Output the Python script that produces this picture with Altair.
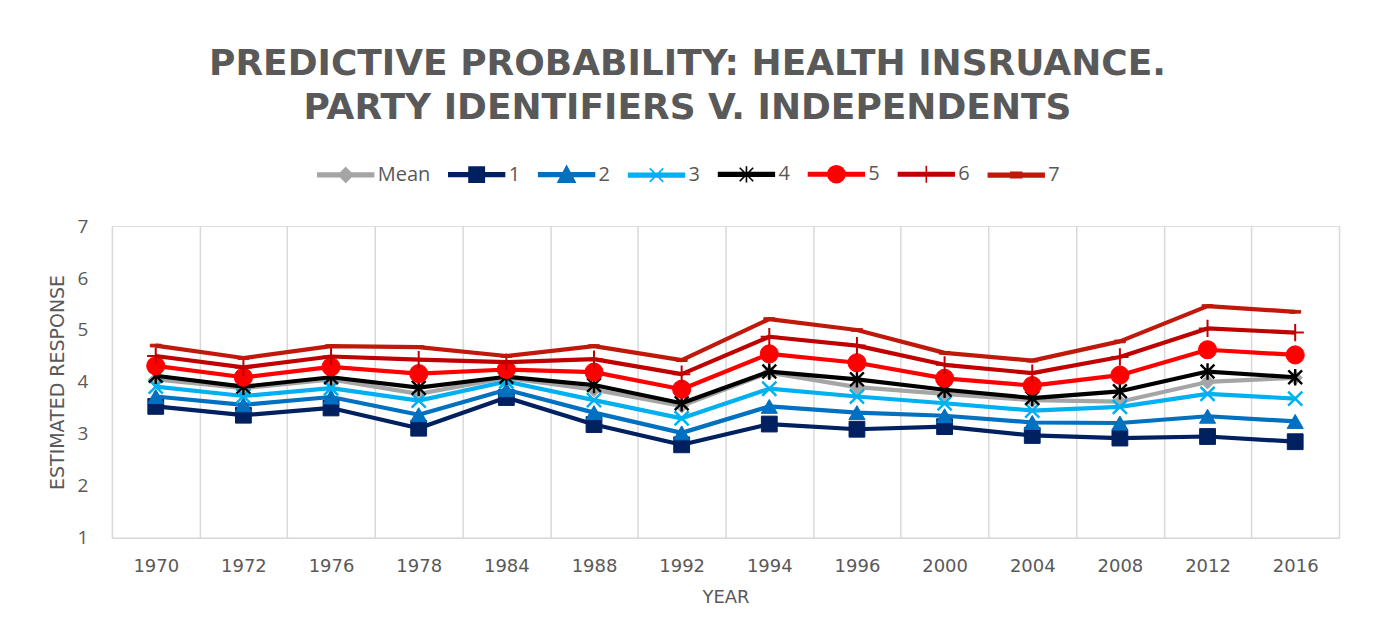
import altair as alt
import pandas as pd

years = ["1970", "1972", "1976", "1978", "1984", "1988", "1992",
         "1994", "1996", "2000", "2004", "2008", "2012", "2016"]
series_names = ["Mean", "1", "2", "3", "4", "5", "6", "7"]

mean_vals = [4.05, 3.88, 4.05, 3.77, 4.08, 3.85, 3.54, 4.18, 3.90, 3.77, 3.65, 3.62, 4.00, 4.08]
s1_vals = [3.53, 3.36, 3.50, 3.11, 3.70, 3.18, 2.79, 3.19, 3.09, 3.14, 2.97, 2.92, 2.95, 2.85]
s2_vals = [3.72, 3.56, 3.71, 3.37, 3.85, 3.41, 3.02, 3.53, 3.41, 3.35, 3.22, 3.21, 3.34, 3.24]
s3_vals = [3.91, 3.73, 3.88, 3.64, 4.01, 3.65, 3.30, 3.87, 3.72, 3.59, 3.45, 3.52, 3.77, 3.68]
s4_vals = [4.12, 3.91, 4.09, 3.89, 4.10, 3.94, 3.59, 4.20, 4.05, 3.85, 3.69, 3.82, 4.20, 4.09]
s5_vals = [4.31, 4.09, 4.29, 4.16, 4.24, 4.19, 3.86, 4.54, 4.37, 4.07, 3.93, 4.13, 4.62, 4.52]
s6_vals = [4.50, 4.28, 4.49, 4.43, 4.38, 4.44, 4.15, 4.87, 4.70, 4.33, 4.17, 4.48, 5.03, 4.95]
s7_vals = [4.70, 4.46, 4.69, 4.67, 4.50, 4.69, 4.42, 5.21, 5.00, 4.56, 4.41, 4.78, 5.46, 5.35]

all_vals = [mean_vals, s1_vals, s2_vals, s3_vals, s4_vals, s5_vals, s6_vals, s7_vals]
colors = ["#A5A5A5", "#002060", "#0070C0", "#00B0F0", "#000000", "#FF0000", "#C00000", "#C0190B"]

rows = []
for name, vals in zip(series_names, all_vals):
    for yr, v in zip(years, vals):
        rows.append({"year": yr, "value": v, "series": name})
df = pd.DataFrame(rows)

TEXT = "#595959"
GRID = "#D9D9D9"

# marker styles (shape, filled, size, strokeWidth)
marker_styles = {
    "Mean": ("diamond", True, 200, 1),
    "1": ("square", True, 250, 1),
    "2": ("triangle-up", True, 260, 1),
    "3": ("M-1,-1L1,1M-1,1L1,-1", False, 200, 2.5),
    "4": ("M-1,-1L1,1M-1,1L1,-1M0,-1.2L0,1.2", False, 190, 2.4),
    "5": ("circle", True, 330, 1),
    "6": ("M-1,0L1,0M0,-1L0,1", False, 300, 2),
    "7": ("M-1,-0.25L1,-0.25L1,0.25L-1,0.25Z", True, 120, 1),
}

# legend symbol paths: line segment + marker (units of sqrt(size)/2)
LINE = "M-3.1,-0.2L3.1,-0.2L3.1,0.2L-3.1,0.2Z"
legend_paths = {
    "Mean": LINE + "M0,-0.8L0.8,0L0,0.8L-0.8,0Z",
    "1": LINE + "M-0.85,-0.85L0.85,-0.85L0.85,0.85L-0.85,0.85Z",
    "2": LINE + "M0,-0.95L0.95,0.85L-0.95,0.85Z",
    "3": LINE + "M-0.75,-0.75L0.75,0.75M-0.75,0.75L0.75,-0.75",
    "4": LINE + "M-0.75,-0.75L0.75,0.75M-0.75,0.75L0.75,-0.75M0,-0.9L0,0.9",
    "5": LINE + "M-0.95,0A0.95,0.95 0 1,1 0.95,0A0.95,0.95 0 1,1 -0.95,0Z",
    "6": LINE + "M0,-0.95L0,0.95",
    "7": LINE + "M-0.6,-0.3L0.6,-0.3L0.6,0.3L-0.6,0.3Z",
}

legend = alt.Legend(
    title=None,
    orient="none",
    legendX=206,
    legendY=-62,
    direction="horizontal",
    columnPadding=14,
    labelFont="Open Sans",
    labelFontSize=20,
    labelColor=TEXT,
    labelOffset=22,
    symbolSize=324,
    symbolOffset=18,
    symbolStrokeWidth=1.6,
    symbolOpacity=1,
)

x_enc = alt.X(
    "year:O",
    sort=years,
    bandPosition=0.5,
    scale=alt.Scale(type="band", paddingInner=0, paddingOuter=0),
    axis=alt.Axis(
        title="YEAR",
        tickBand="extent",
        grid=True,
        gridColor=GRID,
        gridWidth=1.5,
        domainColor=GRID,
        domainWidth=1.5,
        ticks=False,
        labelAngle=0,
        labelPadding=20,
        labelFont="DejaVu Sans",
        labelFontSize=18,
        labelColor=TEXT,
        titleFont="DejaVu Sans",
        titleFontSize=18,
        titleFontWeight="normal",
        titleColor=TEXT,
        titlePadding=13,
    ),
)
y_enc = alt.Y(
    "value:Q",
    scale=alt.Scale(domain=[1, 7], nice=False, zero=False),
    axis=alt.Axis(
        values=[1, 2, 3, 4, 5, 6, 7],
        grid=False,
        domain=False,
        ticks=False,
        labelPadding=24,
        labelFont="Open Sans",
        labelFontSize=19,
        labelColor=TEXT,
        title="ESTIMATED RESPONSE",
        titleFont="DejaVu Sans",
        titleFontSize=19,
        titleFontWeight="normal",
        titleColor=TEXT,
        titlePadding=10,
    ),
)

base = alt.Chart(df)
layers = []
for name, col in zip(series_names, colors):
    sub = base.transform_filter(alt.datum.series == name)
    layers.append(
        sub.mark_line(strokeWidth=4.2, strokeJoin="round", color=col).encode(x=x_enc, y=y_enc)
    )
    shape, filled, size, sw = marker_styles[name]
    layers.append(
        sub.mark_point(
            shape=shape, filled=filled, size=size, strokeWidth=sw,
            opacity=1, fill=col if filled else "transparent", stroke=col,
        ).encode(x=x_enc, y=y_enc)
    )

# legend-only layer: no rows survive the filter, legend comes from explicit scale domains
legend_layer = base.transform_filter("false").mark_point(
    filled=True, opacity=1, strokeWidth=1.6
).encode(
    x=x_enc,
    y=y_enc,
    color=alt.Color("series:N", scale=alt.Scale(domain=series_names, range=colors), legend=legend),
    stroke=alt.Stroke("series:N", scale=alt.Scale(domain=series_names, range=colors), legend=legend),
    shape=alt.Shape(
        "series:N",
        scale=alt.Scale(domain=series_names, range=[legend_paths[n] for n in series_names]),
        legend=legend,
    ),
)
layers.append(legend_layer)

chart = alt.layer(*layers).properties(
    width=1228,
    height=312,
    autosize=alt.AutoSizeParams(type="none"),
    padding={"left": 104, "top": 218, "right": 30, "bottom": 80},
    title=alt.TitleParams(
        ["PREDICTIVE PROBABILITY: HEALTH INSRUANCE.", "PARTY IDENTIFIERS V. INDEPENDENTS"],
        font="DejaVu Sans",
        fontSize=36,
        fontWeight="bold",
        color=TEXT,
        lineHeight=44,
        anchor="middle",
        dx=-38,
        offset=37,
    ),
).configure_view(stroke=None).configure(background="white")

chart.save("out.html", embed_options={"renderer": "svg", "actions": False})
